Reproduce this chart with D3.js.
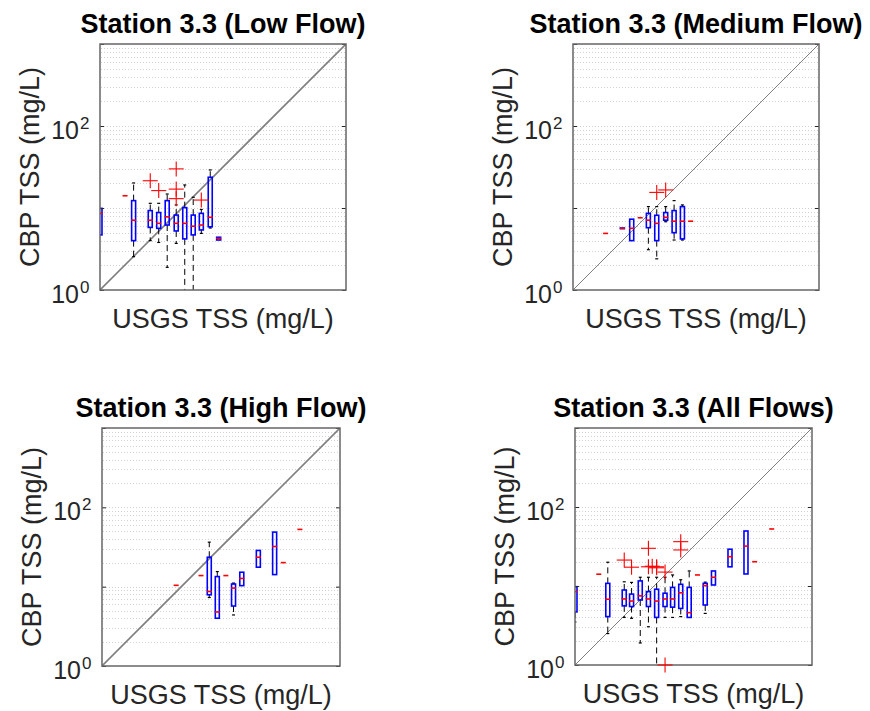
<!DOCTYPE html>
<html>
<head>
<meta charset="utf-8">
<script src="https://cdn.jsdelivr.net/npm/d3@7"></script>
<style>
  html, body { margin: 0; padding: 0; background: #fff; }
  svg { display: block; }
  text { font-family: "Liberation Sans", Arial, Helvetica, sans-serif; }
</style>
</head>
<body>
<svg id="chart" width="870" height="711"></svg>
<script>
// ---------------- DATA ----------------
// Box rows: [position (USGS TSS), lower whisker, Q1, median, Q3, upper whisker]  (null = no whisker)
const lowBoxes = [
  [1.0,  null, 4.7, 8.6, 9.9, null],
  [2.02, null, 14.1, 14.1, 14.1, null],
  [2.57, 2.55, 4.0, 7.1, 12.3, 20.2],
  [4.1,  4.0, 5.8, 7.1, 9.3, 11.4],
  [5.2,  3.8, 5.65, 6.5, 8.8, 11.4],
  [6.6,  1.89, 6.2, 7.8, 12.3, 14.8],
  [8.5,  3.7, 5.25, 6.5, 8.2, 10.9],
  [10.8, 0.5, 4.2, 6.5, 10.1, 19.1],
  [13.7, 0.5, 4.7, 6.0, 8.2, 13.5],
  [17.2, 4.9, 5.4, 6.2, 8.6, 9.6],
  [22.1, 5.7, 5.9, 7.7, 23.7, 29.1],
  [28.0, null, 4.07, 4.25, 4.4, null]
];
const lowOutliers = [[4.1, 21.5], [5.2, 16.3], [8.5, 30], [8.5, 17], [8.5, 13], [17.2, 12.5]];

const mediumBoxes = [
  [2.5,  null, 4.9, 4.9, 4.9, null],
  [4.0,  null, 5.6, 5.65, 5.7, null],
  [5.2,  null, 4.0, 5.65, 7.3, null],
  [6.6,  null, 7.6, 7.6, 7.6, null],
  [8.3,  3.1, 5.75, 7.1, 8.6, 10.4],
  [10.5, 2.4, 4.0, 6.5, 8.15, 10.4],
  [13.5, 6.8, 7.1, 7.7, 8.8, 10.4],
  [17.1, 4.07, 5.0, 6.9, 9.3, 12.3],
  [21.6, 4.07, 4.2, 6.9, 10.4, 10.9],
  [27.2, null, 6.9, 6.9, 6.9, null]
];
const mediumOutliers = [[10.5, 15.5], [13.5, 16.6]];

const highBoxes = [
  [8.6,  null, 10.4, 10.4, 10.4, null],
  [17.7, null, 13.8, 13.8, 13.8, null],
  [22.5, 7.3, 7.9, 8.7, 23.5, 36.4],
  [28.4, null, 4.0, 4.8, 13.4, 15.5],
  [36.4, null, 13.8, 13.8, 13.8, null],
  [45.5, 4.4, 5.7, 9.6, 10.8, 11.1],
  [57.8, null, 10.3, 12.7, 15.2, null],
  [93.5, null, 17.6, 23.5, 28.6, null],
  [150,  null, 14.2, 32.1, 48.7, null],
  [193,  null, 20.1, 20.1, 20.1, null],
  [312,  null, 52.7, 52.7, 52.7, null]
];
const highOutliers = [];

const allBoxes = [
  [1.0,  3.5, 4.7, 8.5, 9.8, null],
  [2.0,  null, 14.1, 14.1, 14.1, null],
  [2.6,  2.5, 4.1, 6.8, 10.8, 20],
  [4.2,  4.0, 5.6, 6.85, 8.9, 11.3],
  [5.2,  3.9, 5.5, 6.45, 7.9, 11.1],
  [6.7,  1.9, 6.65, 7.5, 11.6, 12.9],
  [8.5,  3.05, 5.5, 6.85, 8.5, 12.9],
  [10.8, 0.5, 4.0, 6.45, 9.1, 12.9],
  [13.8, 4.0, 5.5, 6.85, 8.1, 12.9],
  [17.2, 4.0, 5.4, 6.85, 9.6, 13.8],
  [21.8, 4.1, 5.2, 8.2, 10.5, 12.0],
  [27.9, null, 4.0, 4.6, 9.6, 15.5],
  [35.5, null, 13.8, 13.8, 13.8, null],
  [44.5, 4.5, 5.75, 10.1, 10.8, 11.2],
  [56.6, null, 10.3, 12.9, 15.5, null],
  [91.6, null, 17.5, 23.5, 29.2, null],
  [146,  null, 14.2, 32.0, 49.7, null],
  [188,  null, 20.3, 20.3, 20.3, null],
  [309,  null, 52.7, 52.7, 52.7, null]
];
const allOutliers = [[4.2, 21.3], [5.2, 17.3], [8.5, 30], [8.5, 17.5], [9.5, 17.8], [10.8, 17.5],
  [10.8, 17.0], [13.8, 15.0], [13.8, 1.0], [21.8, 36.4], [21.8, 28.6]];

const titles = ["Station 3.3 (Low Flow)", "Station 3.3 (Medium Flow)", "Station 3.3 (High Flow)", "Station 3.3 (All Flows)"];
const xLabel = "USGS TSS (mg/L)";
const yLabel = "CBP TSS (mg/L)";
const yTickLabels = [[1, "0"], [100, "2"]];
const axisDomain = [1, 1000];

// ---------------- LAYOUT ----------------
const panels = [
  {title: titles[0], boxes: lowBoxes, outliers: lowOutliers, left: 100, top: 44, size: 246, diagW: 1.6},
  {title: titles[1], boxes: mediumBoxes, outliers: mediumOutliers, left: 573, top: 44, size: 246, diagW: 1},
  {title: titles[2], boxes: highBoxes, outliers: highOutliers, left: 102, top: 428, size: 238, diagW: 1.6},
  {title: titles[3], boxes: allBoxes, outliers: allOutliers, left: 575, top: 428, size: 237, diagW: 1}
];

const svg = d3.select("#chart");
const defs = svg.append("defs");

panels.forEach((p, i) => {
  const x = d3.scaleLog().domain(axisDomain).range([p.left, p.left + p.size]);
  const y = d3.scaleLog().domain(axisDomain).range([p.top + p.size, p.top]);
  const g = svg.append("g");

  defs.append("clipPath").attr("id", "clip" + i)
    .append("rect").attr("x", p.left).attr("y", p.top).attr("width", p.size).attr("height", p.size);

  // grid (horizontal dotted, log minor + major)
  const gridVals = [];
  for (let k = 0; k < 3; k++) for (let m = 1; m <= 9; m++) {
    const v = m * Math.pow(10, k);
    if (v > 1 && v < 1000) gridVals.push(v);
  }
  g.append("g").selectAll("line").data(gridVals).join("line")
    .attr("x1", p.left + 1).attr("x2", p.left + p.size - 1)
    .attr("y1", d => Math.round(y(d)) + 0.5).attr("y2", d => Math.round(y(d)) + 0.5)
    .attr("stroke", "#d2d2d2").attr("stroke-width", 1).attr("stroke-dasharray", "1,2");

  const plot = g.append("g").attr("clip-path", `url(#clip${i})`);

  // 1:1 line
  plot.append("line")
    .attr("x1", x(1)).attr("y1", y(1)).attr("x2", x(1000)).attr("y2", y(1000))
    .attr("stroke", "#7f7f7f").attr("stroke-width", p.diagW);

  const bw = 4; // box width in px
  const boxes = p.boxes.map(b => ({pos: b[0], wlo: b[1], q1: b[2], med: b[3], q3: b[4], whi: b[5]}));

  // whiskers
  boxes.forEach(b => {
    const cx = x(b.pos);
    if (b.whi != null) {
      plot.append("line").attr("x1", cx).attr("x2", cx).attr("y1", y(b.q3)).attr("y2", y(b.whi))
        .attr("stroke", "#000").attr("stroke-width", 1).attr("stroke-dasharray", "6,4");
      plot.append("line").attr("x1", cx - 1.5).attr("x2", cx + 1.5).attr("y1", y(b.whi)).attr("y2", y(b.whi))
        .attr("stroke", "#000").attr("stroke-width", 1.2);
    }
    if (b.wlo != null) {
      plot.append("line").attr("x1", cx).attr("x2", cx).attr("y1", y(b.q1)).attr("y2", y(b.wlo))
        .attr("stroke", "#000").attr("stroke-width", 1).attr("stroke-dasharray", "6,4");
      plot.append("line").attr("x1", cx - 1.5).attr("x2", cx + 1.5).attr("y1", y(b.wlo)).attr("y2", y(b.wlo))
        .attr("stroke", "#000").attr("stroke-width", 1.2);
    }
  });

  // boxes
  plot.append("g").selectAll("rect").data(boxes.filter(b => b.q3 > b.q1)).join("rect")
    .attr("x", d => x(d.pos) - bw / 2).attr("width", bw)
    .attr("y", d => y(d.q3)).attr("height", d => Math.max(0.5, y(d.q1) - y(d.q3)))
    .attr("fill", "none").attr("stroke", "#0000ff").attr("stroke-width", 1.6);

  // medians
  plot.append("g").selectAll("line").data(boxes).join("line")
    .attr("x1", d => x(d.pos) - bw / 2 - 0.5).attr("x2", d => x(d.pos) + bw / 2 + 0.5)
    .attr("y1", d => y(d.med)).attr("y2", d => y(d.med))
    .attr("stroke", "#ff0000").attr("stroke-width", 1.6);

  // ticks (inward) both sides
  const tickVals = [1, 10, 100, 1000];
  g.append("g").attr("transform", `translate(${p.left},0)`)
    .call(d3.axisRight(y).tickValues(tickVals).tickSize(4).tickFormat(""))
    .call(a => a.select(".domain").remove())
    .selectAll("line").attr("stroke", "#262626");
  g.append("g").attr("transform", `translate(${p.left + p.size},0)`)
    .call(d3.axisLeft(y).tickValues(tickVals).tickSize(4).tickFormat(""))
    .call(a => a.select(".domain").remove())
    .selectAll("line").attr("stroke", "#262626");

  // axes box
  g.append("rect").attr("x", p.left).attr("y", p.top).attr("width", p.size).attr("height", p.size)
    .attr("fill", "none").attr("stroke", "#666").attr("stroke-width", 1.5);

  // outliers (+), markers not clipped
  const hs = 7.5;
  const og = g.append("g").attr("stroke", "#ff0000").attr("stroke-width", 1.1);
  p.outliers.forEach(o => {
    const cx = x(o[0]), cy = y(o[1]);
    og.append("line").attr("x1", cx - hs).attr("x2", cx + hs).attr("y1", cy).attr("y2", cy);
    og.append("line").attr("x1", cx).attr("x2", cx).attr("y1", cy - hs).attr("y2", cy + hs);
  });

  // tick labels 10^n
  yTickLabels.forEach(t => {
    const ty = y(t[0]);
    g.append("text").attr("x", p.left - 21).attr("y", ty + 12.5)
      .attr("text-anchor", "end").attr("font-size", 25).attr("fill", "#262626").text("10");
    g.append("text").attr("x", p.left - 20).attr("y", ty + 3)
      .attr("text-anchor", "start").attr("font-size", 17).attr("fill", "#262626").text(t[1]);
  });

  // title
  g.append("text").attr("x", p.left + p.size / 2).attr("y", p.top - 11)
    .attr("text-anchor", "middle").attr("font-size", 27).attr("font-weight", "bold")
    .attr("fill", "#000").text(p.title);

  // x label
  g.append("text").attr("x", p.left + p.size / 2).attr("y", p.top + p.size + 38)
    .attr("text-anchor", "middle").attr("font-size", 27).attr("fill", "#262626").text(xLabel);

  // y label
  const yl = p.left - 61, yc = p.top + p.size / 2;
  g.append("text").attr("transform", `translate(${yl},${yc}) rotate(-90)`)
    .attr("text-anchor", "middle").attr("font-size", 27).attr("fill", "#262626").text(yLabel);
});
</script>
</body>
</html>
